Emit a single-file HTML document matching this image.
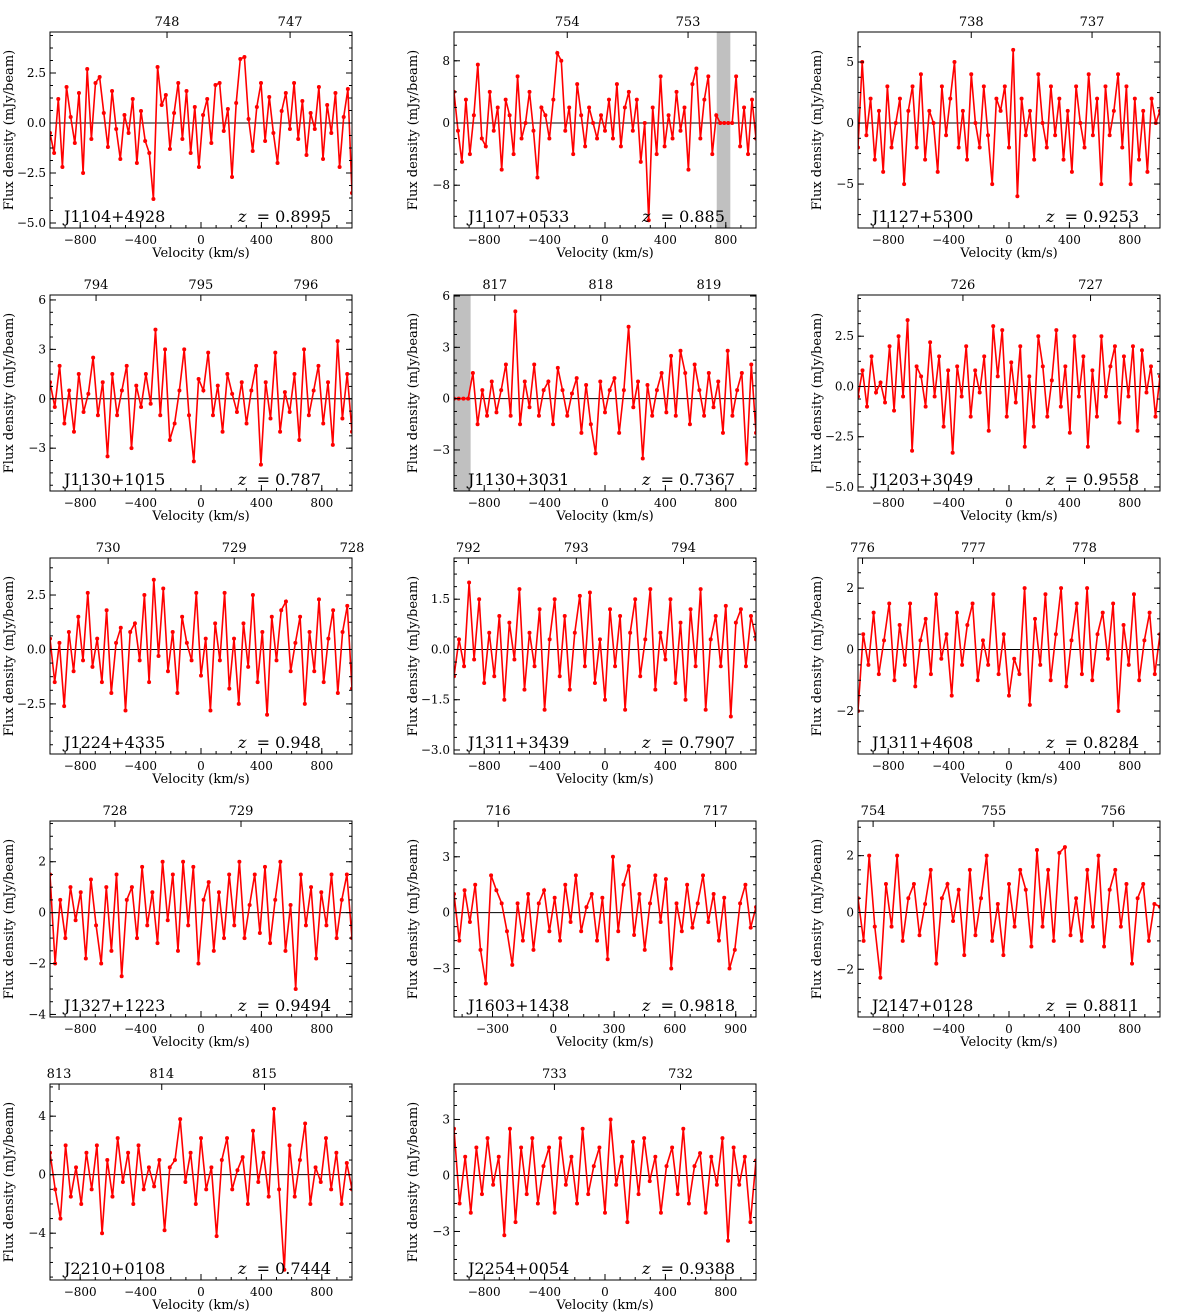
<!DOCTYPE html>
<html><head><meta charset="utf-8"><style>
body{margin:0;background:#fff}
svg{display:block;font-family:"DejaVu Serif","Liberation Serif",serif}
</style></head><body>
<svg id="fig" width="1200" height="1313" viewBox="0 0 1200 1313" xmlns="http://www.w3.org/2000/svg"></svg>
<script>
const names=["J1104+4928","J1107+0533","J1127+5300","J1130+1015","J1130+3031","J1203+3049","J1224+4335","J1311+3439","J1311+4608","J1327+1223","J1603+1438","J2147+0128","J2210+0108","J2254+0054"];
const redshifts=["0.8995","0.885","0.9253","0.787","0.7367","0.9558","0.948","0.7907","0.8284","0.9494","0.9818","0.8811","0.7444","0.9388"];
const yRanges=[[-5.25,4.55],[-13.5,11.7],[-8.6,7.46],[-5.6,6.3],[-5.4,6.06],[-5.2,4.55],[-4.8,4.2],[-3.12,2.73],[-3.4,2.98],[-4.1,3.6],[-5.6,4.92],[-3.68,3.22],[-7.2,6.2],[-5.6,4.9]];
const yTicks=[[-5,-2.5,0,2.5],[-8,0,8],[-5,0,5],[-3,0,3,6],[-3,0,3,6],[-5,-2.5,0,2.5],[-2.5,0,2.5],[-3,-1.5,0,1.5],[-2,0,2],[-4,-2,0,2],[-3,0,3],[-2,0,2],[-4,0,4],[-3,0,3]];
const yDecimals=[1,0,0,0,0,1,1,1,0,0,0,0,0,0];
const xRanges=[[-1000,1000],[-1000,1000],[-1000,1000],[-1000,1000],[-1000,1000],[-1000,1000],[-1000,1000],[-1000,1000],[-1000,1000],[-1000,1000],[-490,1000],[-1000,1000],[-1000,1000],[-1000,1000]];
const xTicks=[[-800,-400,0,400,800],[-800,-400,0,400,800],[-800,-400,0,400,800],[-800,-400,0,400,800],[-800,-400,0,400,800],[-800,-400,0,400,800],[-800,-400,0,400,800],[-800,-400,0,400,800],[-800,-400,0,400,800],[-800,-400,0,400,800],[-300,0,300,600,900],[-800,-400,0,400,800],[-800,-400,0,400,800],[-800,-400,0,400,800]];
const topTickLabels=[["748","747"],["754","753"],["738","737"],["794","795","796"],["817","818","819"],["726","727"],["730","729","728"],["792","793","794"],["776","777","778"],["728","729"],["716","717"],["754","755","756"],["813","814","815"],["733","732"]];
const topTickVel=[[-225,590],[-250,550],[-250,550],[-695,-1,695],[-730,-28,688],[-305,540],[-615,220,1000],[-905,-190,520],[-970,-236,500],[-570,265],[-272,800],[-900,-100,690],[-940,-260,420],[-335,500]];
const bands=[null,[740,830],null,null,[-1000,-890],null,null,null,null,null,null,null,null,null];
const s1=[-0.5,-1.5,1.2,-2.2,1.8,0.3,-1.0,1.5,-2.5,2.7,-0.8,2.0,2.3,0.5,-1.2,1.6,-0.3,-1.8,0.4,-0.5,1.2,-2.0,0.6,-0.9,-1.5,-3.8,2.8,0.9,1.4,-1.3,0.5,2.0,-0.8,1.6,-1.5,0.8,-2.2,0.4,1.2,-1.0,1.9,2.0,-0.4,0.7,-2.7,1.0,3.2,3.3,0.2,-1.4,0.8,2.0,-0.9,1.3,-0.5,-2.0,0.6,1.5,-0.3,2.0,-0.8,1.1,-1.6,0.5,-0.3,1.8,-1.8,0.9,-0.5,1.5,-2.2,0.3,1.7,-3.5];
const s2=[4,-1,-5,3,-4,1,7.5,-2,-3,4,-1,2,-6,3,1,-4,6,-2,0,4,-1,-7,2,1,-2,3,9,8,-1,2,-4,5,1,-3,2,0,-2,1,-1,3,-2,5,-3,2,4,-1,3,-5,0,-12.5,2,-4,6,-3,1,-2,4,-1,2,-6,5,7,-2,3,6,-4,1,0,0,0,0,6,-3,2,-4,3,-2];
const s3=[-2,5,-1,2,-3,1,-4,3,-2,0,2,-5,1,3,-2,4,-3,1,0,-4,3,-1,2,5,-2,1,-3,4,0,-2,3,-1,-5,2,1,3,-2,6,-6,2,-1,1,-3,4,0,-2,3,-1,2,-3,1,-4,3,0,-2,4,-1,2,-5,3,-1,1,4,-2,3,-5,2,-3,1,-4,2,0,1];
const s4=[1,-0.5,2,-1.5,0.5,-2,1.5,-0.8,0.3,2.5,-1,1,-3.5,1.5,-1,0.5,2,-3,0.8,-0.5,1.5,-0.3,4.2,-1,3,-2.5,-1.5,0.5,3,-1,-3.8,1.2,0.5,2.8,-1,0.8,-2,1.5,0.3,-0.8,1,-1.5,0.5,2,-4,1,-1.2,2.8,-2,0.4,-0.8,1.5,-2.5,3,-1,0.5,2,-1.5,1,-2.8,3.5,-1.2,1.5,-2];
const s5=[0,0,0,0,1.5,-1.5,0.5,-1,1,-0.8,0.5,2,-1,5.1,-1.5,1,-0.5,2,-1,0.5,1,-1.5,1.8,0.5,-1,0.3,1.2,-2,0.8,-1.5,-3.2,1,-0.8,0.5,1.2,-2,0.5,4.2,-0.5,1,-3.5,0.8,-1,0.5,1.5,-0.8,2.5,-1,2.8,1.5,-1.5,2,0.5,-1,1.5,-0.5,1,-2,2.8,-1,0.5,1.5,-3.8,2,-2];
const s6=[-0.5,0.8,-1,1.5,-0.3,0.2,-0.8,2,-1.2,2.5,-0.5,3.3,-3.2,1,0.5,-1,2.2,-0.5,1.5,-2,0.8,-3.3,1,-0.5,2,-1.5,0.8,-0.3,1.5,-2.2,3,0.5,2.8,-1.5,1.2,-0.8,2,-3,0.5,-2,2.5,1,-1.5,0.3,2.8,-1,1,-2.3,2.5,-0.5,1.5,-3,0.8,-1.5,2.5,-0.5,1,2,-1.8,1.5,-0.5,2,-2.2,1.8,-0.3,1,-1.5,0.5];
const s7=[0.5,-1.5,0.3,-2.6,0.8,-1,1.5,-0.5,2.6,-0.8,0.5,-1.5,1.8,-2,0.3,1,-2.8,0.8,1.2,-0.5,2.5,-1.5,3.2,-0.3,2.8,-1,0.8,-2,1.5,0.3,-0.5,2.6,-1.2,0.5,-2.8,1.2,-0.5,2.6,-1.8,0.5,-2.5,1.2,-0.8,2.5,-1.5,0.8,-3,1.5,-0.5,1.8,2.2,-1,0.3,1.5,-2.5,0.8,-1,2.3,-1.5,0.5,1.8,-2,0.8,2,-1.8];
const s8=[-0.8,0.3,-0.5,2,-0.3,1.5,-1,0.5,-0.8,1,-1.5,0.8,-0.3,1.8,-1.2,0.5,-0.5,1.2,-1.8,0.3,1.5,-0.8,1,-1.2,0.5,1.6,-0.5,1.7,-1,0.3,-1.5,1.2,-0.5,1,-1.8,0.5,1.5,-0.8,0.3,1.8,-1.2,0.5,-0.3,1.5,-1,0.8,-1.5,1.2,-0.5,1.8,-1.8,0.3,1,-0.5,1.3,-2,0.8,1.2,-0.5,1,0.3];
const s9=[-2,0.5,-0.5,1.2,-0.8,0.3,1.5,-1,0.8,-0.5,1.5,-1.2,0.3,1,-0.8,1.8,-0.3,0.5,-1.5,1.2,-0.5,0.8,1.5,-1,0.3,-0.5,1.8,-0.8,0.5,-1.5,-0.3,-0.8,2,-1.8,1,-0.5,1.8,-1,0.5,2,-1.2,0.3,1.5,-0.8,2,-1,0.5,1.2,-0.3,1.5,-2,0.8,-0.5,1.8,-1,0.3,1.2,-0.8,0.5];
const s10=[1.5,-2,0.5,-1,1,-0.3,0.8,-1.8,1.3,-0.5,-2,1,-1.5,1.5,-2.5,0.5,1,-1,1.8,-0.5,0.8,-1.2,2,-0.3,1.5,-1.5,2,-0.5,1.8,-2,0.5,1.2,-1.5,0.8,-1,1.5,-0.5,2,-1,0.3,1.5,-0.8,1.8,-1.2,0.5,2,-1.5,0.3,-3,1.5,-0.5,1,-1.8,0.8,-0.5,1.5,-1,0.5,1.5,-1];
const s11=[1,-1.5,1.2,-0.5,1.5,-2,-3.8,2,1.2,0.5,-1,-2.8,0.5,-1.5,1,-2,0.5,1.2,-1,0.8,-1.5,1.5,-0.5,2,-1,0.3,1,-1.5,0.8,-2.5,3,-1,1.5,2.5,-1.2,1,-2,0.5,2,-0.5,1.8,-3,0.5,-1,1.5,-0.8,0.5,2,-0.5,1,-1.5,0.8,-3,-2,0.5,1.5,-0.8,0.3];
const s12=[0.5,-1,2,-0.5,-2.3,1,-0.5,2,-1,0.5,1,-0.8,0.3,1.5,-1.8,0.5,1,-0.3,0.8,-1.5,1.5,-0.8,0.5,2,-1,0.3,-1.5,1,-0.5,1.5,0.8,-1.2,2.2,-0.5,1.5,-1,2.1,2.3,-0.8,0.5,-1,1.5,-0.5,2,-1.2,0.8,1.5,-0.5,1,-1.8,0.5,1,-1,0.3,0.2];
const s13=[1.5,-1,-3,2,-1.5,0.5,-2,1.5,-1,2,-4,1,-1.5,2.5,-0.5,1.5,-2,2,-1,0.5,-0.8,1,-3.8,0.5,1,3.8,-0.5,1.5,-2,2.5,-1,0.5,-4.2,1,2.5,-1,0.3,1.2,-2,3,-0.5,1.5,-1.5,4.5,-1,-6.5,2,-1.5,1,3.5,-2,0.5,-0.5,2.5,-1,1.5,-2,0.8,-1];
const s14=[2.5,-1.5,1,-2,1.5,-1,2,-0.5,1,-3.2,2.5,-2.5,1.5,-1,2,-1.5,0.5,1.5,-2,2,-0.5,1,-1.5,2.5,-1,0.5,1.5,-2,3,-0.5,1,-2.5,1.8,-1,2,-0.3,1,-2,0.5,1.5,-1,2.5,-1.5,0.5,1.2,-2,1,-0.5,2,-3.5,1.5,-0.5,1,-2.5,0.8];
const series=[s1,s2,s3,s4,s5,s6,s7,s8,s9,s10,s11,s12,s13,s14];

const NS="http://www.w3.org/2000/svg";
const svg=document.getElementById('fig');
function mk(tag,attrs,parent,text){const e=document.createElementNS(NS,tag);for(const k in attrs)e.setAttribute(k,attrs[k]);if(text!==undefined)e.textContent=text;parent.appendChild(e);return e;}
const colX=[50,454,858], rowY=[32,295,558,821,1084], PW=302, PH=196;
function fmt(v,d){return v.toFixed(d).replace('-','\u2212');}
series.forEach((data,i)=>{
  const L=colX[i%3], T=rowY[Math.floor(i/3)], R=L+PW, B=T+PH;
  const [x0,x1]=xRanges[i], [y0,y1]=yRanges[i];
  const X=v=>L+(v-x0)/(x1-x0)*PW, Y=v=>B-(v-y0)/(y1-y0)*PH;
  const g=mk('g',{},svg);
  
  
  const cid='c'+i;
  const cp=mk('clipPath',{id:cid},g); mk('rect',{x:L,y:T,width:PW,height:PH},cp);
  const inner=mk('g',{'clip-path':'url(#'+cid+')'},g);
  if(bands[i]){const b=mk('rect',{x:X(bands[i][0]),y:T,width:X(bands[i][1])-X(bands[i][0]),height:PH,fill:'#c0c0c0'},inner);
    
    }
  const z=mk('line',{x1:L,x2:R,y1:Y(0),y2:Y(0),stroke:'#000','stroke-width':1},inner);
  
  
  const n=data.length, pts=data.map((v,k)=>[X(x0+k*(x1-x0)/(n-1)),Y(v)]);
  const pl=mk('polyline',{points:pts.map(p=>p[0].toFixed(1)+','+p[1].toFixed(1)).join(' '),fill:'none',stroke:'#ff0000','stroke-width':1.6},inner);
  
  
  pts.forEach(p=>{const c=mk('circle',{cx:p[0],cy:p[1],r:2,fill:'#ff0000'},inner);
    
    });
  mk('rect',{x:L,y:T,width:PW,height:PH,fill:'none',stroke:'#000','stroke-width':1},g);
  // x ticks
  const step=xTicks[i][1]-xTicks[i][0];
  for(let v=Math.ceil(x0/(step/4))*(step/4);v<=x1;v+=step/4){const x=X(v);mk('line',{x1:x,x2:x,y1:B,y2:B-3,stroke:'#000'},g);}
  xTicks[i].forEach(v=>{const x=X(v);mk('line',{x1:x,x2:x,y1:B,y2:B-6,stroke:'#000'},g);
    const t=mk('text',{x:x,y:B+16,'font-size':12,'text-anchor':'middle'},g,fmt(v,0));
    
    });
  // top ticks
  topTickVel[i].forEach((v,k)=>{const x=X(v);mk('line',{x1:x,x2:x,y1:T,y2:T+6,stroke:'#000'},g);
    const t=mk('text',{x:x,y:T-6,'font-size':13,'text-anchor':'middle'},g,topTickLabels[i][k]);
    
    });
  // y ticks
  const ys=yTicks[i][1]-yTicks[i][0];
  for(let v=Math.ceil(y0/(ys/4))*(ys/4);v<=y1;v+=ys/4){const y=Y(v);mk('line',{x1:L,x2:L+3,y1:y,y2:y,stroke:'#000'},g);mk('line',{x1:R,x2:R-3,y1:y,y2:y,stroke:'#000'},g);}
  yTicks[i].forEach(v=>{const y=Y(v);mk('line',{x1:L,x2:L+6,y1:y,y2:y,stroke:'#000'},g);mk('line',{x1:R,x2:R-6,y1:y,y2:y,stroke:'#000'},g);
    const t=mk('text',{x:L-4,y:y+4,'font-size':12,'text-anchor':'end'},g,fmt(v,yDecimals[i]));
    
    });
  const xl=mk('text',{x:L+PW/2,y:B+29,'font-size':13,'text-anchor':'middle'},g,'Velocity (km/s)');
  
  
  const yl=mk('text',{x:0,y:0,'font-size':13,'text-anchor':'middle',transform:`translate(${L-37},${T+PH/2}) rotate(-90)`},g,'Flux density (mJy/beam)');
  
  
  const nm=mk('text',{x:L+14,y:B-6,'font-size':16},g,names[i]);
  
  
  const zt=mk('text',{x:L+188,y:B-6,'font-size':16},g);
  
  
  mk('tspan',{'font-style':'italic'},zt,'z');
  mk('tspan',{},zt,'\u00a0 = '+redshifts[i]);
});
</script>
</body></html>
